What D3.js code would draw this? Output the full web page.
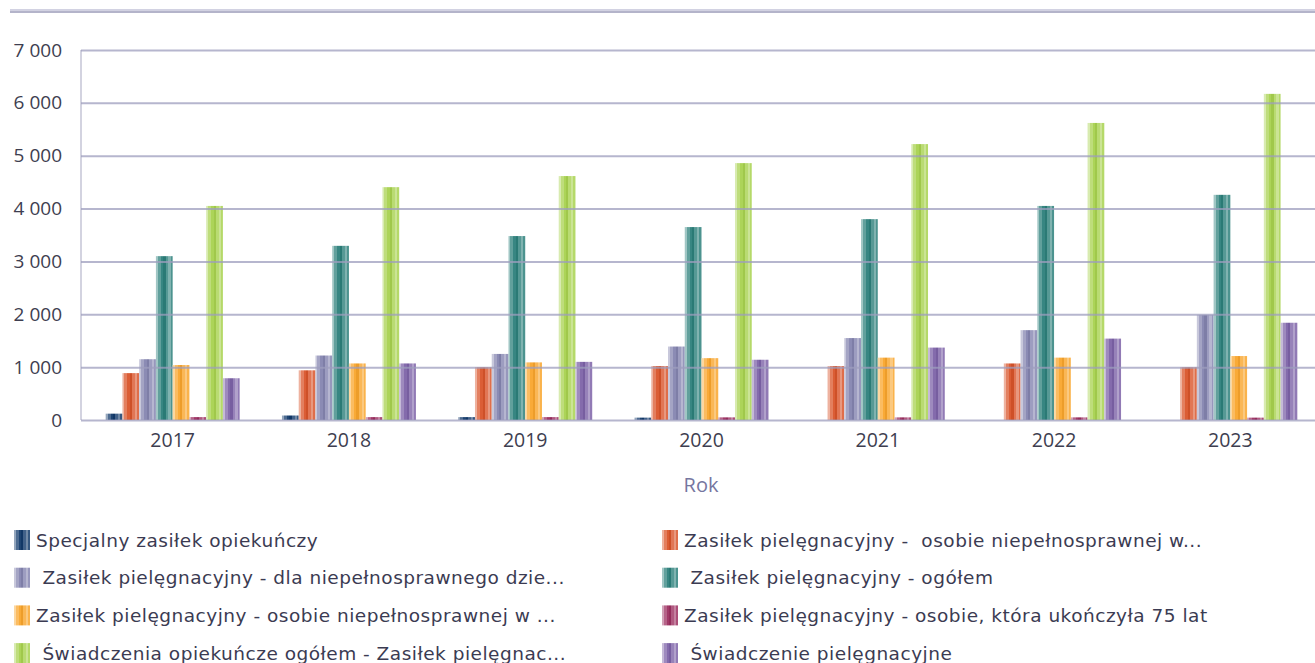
<!DOCTYPE html>
<html>
<head>
<meta charset="utf-8">
<script src="https://cdn.jsdelivr.net/npm/d3@7"></script>
<style>
  body { margin: 0; background: #ffffff; }
  svg { display: block; }
</style>
</head>
<body>
<script>
var width = 1315;
var height = 663;

// data
var years = ["2017", "2018", "2019", "2020", "2021", "2022", "2023"];
var seriesNames = [
  "Specjalny zasiłek opiekuńczy",
  "Zasiłek pielęgnacyjny -  osobie niepełnosprawnej w...",
  " Zasiłek pielęgnacyjny - dla niepełnosprawnego dzie...",
  " Zasiłek pielęgnacyjny - ogółem",
  "Zasiłek pielęgnacyjny - osobie niepełnosprawnej w ...",
  "Zasiłek pielęgnacyjny - osobie, która ukończyła 75 lat",
  " Świadczenia opiekuńcze ogółem - Zasiłek pielęgnac...",
  " Świadczenie pielęgnacyjne"
];
var specjalny = [120, 85, 55, 45, 0, 0, 0];
var zpNiepelnosprawnej = [887, 940, 1000, 1020, 1020, 1070, 1000];
var zpDziecka = [1150, 1220, 1250, 1390, 1550, 1700, 1990];
var zpOgolem = [3100, 3295, 3480, 3650, 3800, 4050, 4260];
var zpNiepelnosprawnej2 = [1040, 1070, 1090, 1170, 1180, 1180, 1210];
var zp75lat = [55, 55, 55, 50, 50, 50, 45];
var opiekunczeOgolem = [4050, 4405, 4615, 4860, 5220, 5620, 6170];
var pielegnacyjne = [790, 1070, 1100, 1140, 1370, 1540, 1840];
var yTicks = [0, 1000, 2000, 3000, 4000, 5000, 6000, 7000];

var allValues = [specjalny, zpNiepelnosprawnej, zpDziecka, zpOgolem,
                 zpNiepelnosprawnej2, zp75lat, opiekunczeOgolem, pielegnacyjne];
var colors = ["#123a6b", "#d9542a", "#8585b0", "#2c807b", "#f9a52c", "#9c2f60", "#a8d24f", "#7d63a8"];

var series = seriesNames.map(function(name, i) {
  return {name: name, key: "s" + i, color: colors[i], values: allValues[i]};
});

var svg = d3.select("body").append("svg")
  .attr("width", width)
  .attr("height", height);

// stripe gradients
var defs = svg.append("defs");
var stripes = [
  [0, 0.55], [0.12, 0.55], [0.12, 0.25], [0.3, 0.25], [0.3, 0.05],
  [0.45, 0.05], [0.45, -0.05], [0.58, -0.05], [0.58, 0.2], [0.75, 0.2],
  [0.75, 0.4], [0.88, 0.4], [0.88, 0.15], [1, 0.15]
];
series.forEach(function(s) {
  var g = defs.append("linearGradient")
    .attr("id", "grad-" + s.key)
    .attr("x1", "0").attr("x2", "1").attr("y1", "0").attr("y2", "0");
  stripes.forEach(function(st) {
    var c = st[1] >= 0 ? d3.interpolateRgb(s.color, "#ffffff")(st[1])
                       : d3.interpolateRgb(s.color, "#000000")(-st[1]);
    g.append("stop").attr("offset", st[0]).attr("stop-color", c);
  });
});

// top decorative line
svg.append("rect")
  .attr("x", 10).attr("y", 9)
  .attr("width", width - 10).attr("height", 2)
  .attr("fill", "#d2d2e2");
svg.append("rect")
  .attr("x", 10).attr("y", 11)
  .attr("width", width - 10).attr("height", 2)
  .attr("fill", "#b4b4ca");

var plotLeft = 81, plotTop = 50, plotBottom = 420, plotRight = 1322;

var x0 = d3.scaleBand()
  .domain(years)
  .range([plotLeft, plotRight])
  .paddingInner(0.24)
  .paddingOuter(0.14);

var x1 = d3.scaleBand()
  .domain(series.map(function(s) { return s.key; }))
  .range([0, x0.bandwidth()]);

var y = d3.scaleLinear()
  .domain([0, 7000])
  .range([plotBottom, plotTop]);

var locale = d3.formatLocale({decimal: ",", thousands: " ", grouping: [3], currency: ["", " zł"]});
var fmt = locale.format(",d");

// left frame line
svg.append("line")
  .attr("x1", plotLeft).attr("x2", plotLeft)
  .attr("y1", plotTop).attr("y2", plotBottom)
  .attr("stroke", "#c4c4d6").attr("stroke-width", 1.5);

// bars
var groups = svg.append("g").attr("class", "bars")
  .selectAll("g")
  .data(series)
  .enter()
  .append("g")
  .attr("fill", function(s) { return "url(#grad-" + s.key + ")"; });

groups.selectAll("rect")
  .data(function(s) {
    return s.values.map(function(v, i) { return {key: s.key, year: years[i], value: v}; });
  })
  .enter()
  .filter(function(d) { return d.value > 0; })
  .append("rect")
  .attr("x", function(d) { return x0(d.year) + x1(d.key); })
  .attr("y", function(d) { return y(d.value); })
  .attr("width", x1.bandwidth())
  .attr("height", function(d) { return plotBottom - y(d.value); });

// gridlines (over bars, light)
var yAxis = svg.append("g")
  .attr("transform", "translate(" + plotLeft + ",0)")
  .call(d3.axisLeft(y).tickValues(yTicks).tickSize(-(plotRight - plotLeft)).tickFormat(fmt).tickPadding(19));

yAxis.select(".domain").remove();
yAxis.selectAll(".tick line")
  .attr("stroke", "#9d9dbd")
  .attr("stroke-opacity", 0.75)
  .attr("stroke-width", 2);
yAxis.selectAll(".tick text")
  .attr("fill", "#3e3e50")
  .style("font-family", "'Open Sans', sans-serif")
  .style("font-size", "19px");

// x axis labels
var xAxis = svg.append("g")
  .attr("transform", "translate(0," + plotBottom + ")")
  .call(d3.axisBottom(x0).tickSize(0).tickPadding(13));
xAxis.select(".domain").remove();
xAxis.selectAll(".tick text")
  .attr("fill", "#3e3e50")
  .style("font-family", "'Open Sans', sans-serif")
  .style("font-size", "19.5px");

// axis title
svg.append("text")
  .attr("x", 701)
  .attr("y", 492)
  .attr("text-anchor", "middle")
  .attr("fill", "#7676a0")
  .style("font-family", "'Open Sans', sans-serif")
  .style("font-size", "20px")
  .text("Rok");

// legend
var legend = svg.append("g").attr("class", "legend")
  .selectAll("g")
  .data(series)
  .enter()
  .append("g")
  .attr("transform", function(d, i) {
    var col = i % 2, row = Math.floor(i / 2);
    return "translate(" + (col === 0 ? 14 : 662) + "," + (530 + row * 37.7) + ")";
  });

legend.append("rect")
  .attr("width", 16)
  .attr("height", 20)
  .attr("fill", function(d) { return "url(#grad-" + d.key + ")"; });

legend.append("text")
  .attr("x", 22)
  .attr("y", 16.5)
  .attr("fill", "#3b3b52")
  .style("font-family", "'DejaVu Sans', sans-serif")
  .style("font-size", "18.5px")
  .style("letter-spacing", "0.5px")
  .style("white-space", "pre")
  .text(function(d) { return d.name; });
</script>
</body>
</html>
